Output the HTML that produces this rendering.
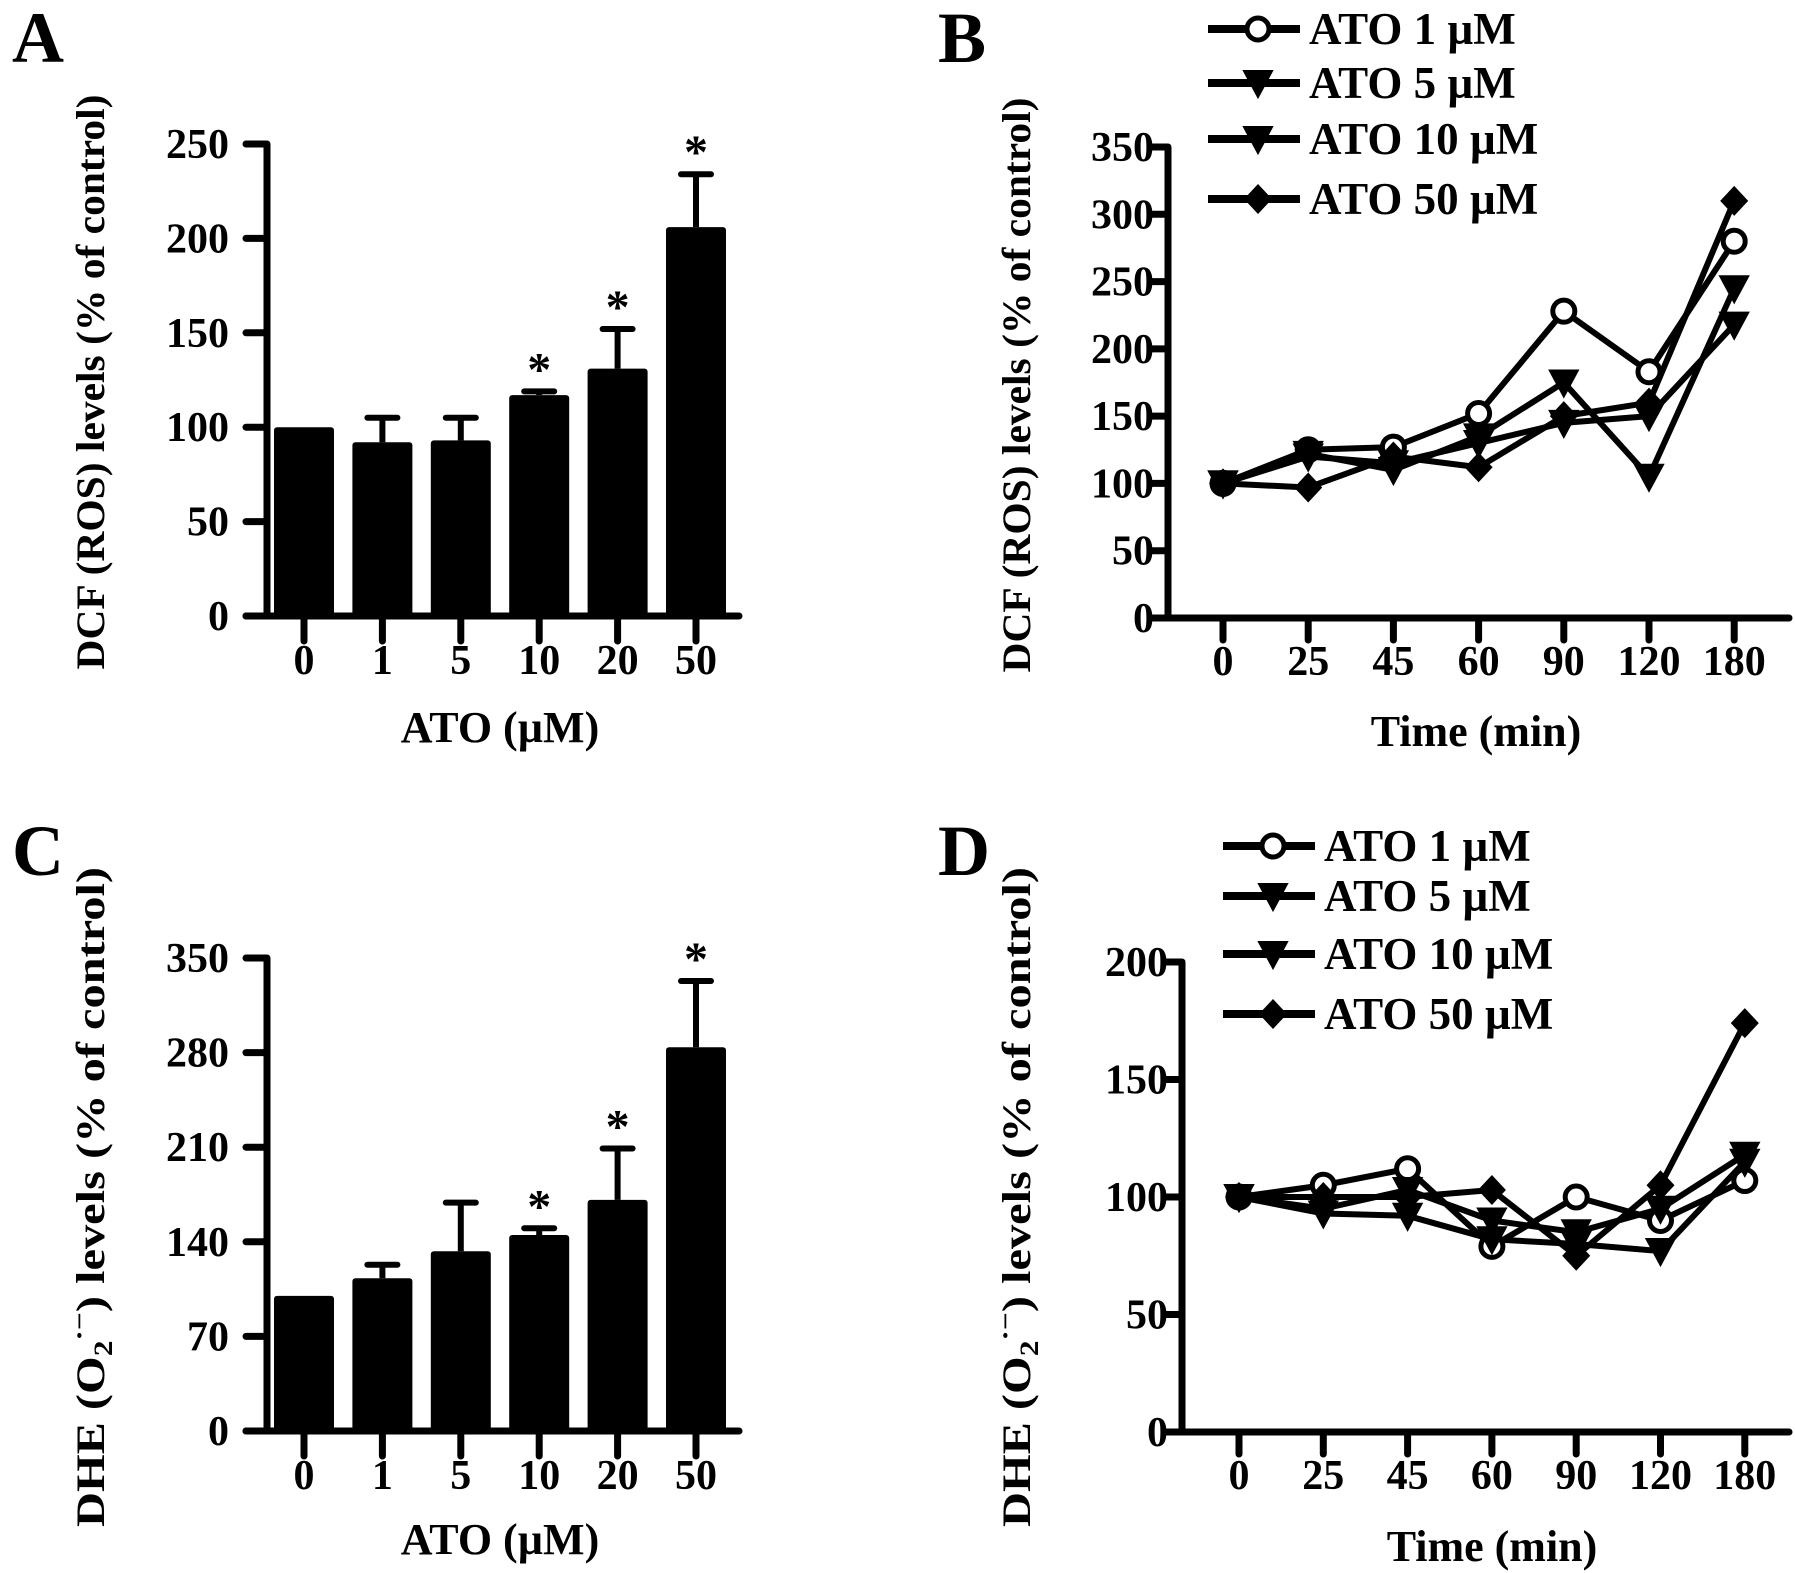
<!DOCTYPE html>
<html><head><meta charset="utf-8"><style>
html,body{margin:0;padding:0;background:#fff;}
svg{display:block;font-family:"Liberation Serif",serif;font-weight:bold;}
</style></head><body>
<svg id="fig" width="1795" height="1573" viewBox="0 0 1795 1573" xmlns="http://www.w3.org/2000/svg">
<rect width="1795" height="1573" fill="#fff"/>
</svg>
<script>
// ---- data ----
const doseCats = ["0","1","5","10","20","50"];
const dcfMeans = [100, 92, 93, 117, 131, 206];
const dcfErrTop = [100, 105, 105, 119, 152, 234];
const dcfStars = [false, false, false, true, true, true];
const dheMeans = [100, 113, 133, 145, 171, 284];
const dheErrTop = [100, 123, 169, 150, 209, 333];
const dheStars = [false, false, false, true, true, true];
const timeCats = ["0","25","45","60","90","120","180"];
const legendLabels = ["ATO 1 µM","ATO 5 µM","ATO 10 µM","ATO 50 µM"];
const markerTypes = ["circle","tri","tri","diamond"];
const dcfAto1 = [100,125,127,152,228,183,280];
const dcfAto5 = [100,122,110,135,175,105,245];
const dcfAto10 = [100,120,115,130,145,150,218];
const dcfAto50 = [100,97,120,112,150,160,310];
const dheAto1 = [100,105,112,79,100,90,107];
const dheAto5 = [100,95,103,90,85,95,118];
const dheAto10 = [100,93,92,82,80,77,115];
const dheAto50 = [100,100,100,103,75,105,174];
const dcfTicks = [0,50,100,150,200,250];
const dheBarTicks = [0,70,140,210,280,350];
const dcfLineTicks = [0,50,100,150,200,250,300,350];
const dheLineTicks = [0,50,100,150,200];

const NS="http://www.w3.org/2000/svg";
const svg=document.getElementById('fig');
function el(tag,attrs,parent){const e=document.createElementNS(NS,tag);for(const k in attrs)e.setAttribute(k,attrs[k]);(parent||svg).appendChild(e);return e;}
function txt(s,x,y,size,anchor,parent){const t=el('text',{x:x,y:y,'font-size':size,'text-anchor':anchor||'middle'},parent);t.textContent=s;return t;}

function panelLetter(ch,x,y){
  const t=txt(ch,x,y,72,'start');
  
  
}

function yLabel(cx,cy,len,isDhe,name){
  const t=el('text',{transform:`translate(${cx},${cy}) rotate(-90)`,'text-anchor':'middle','font-size':40,textLength:len,lengthAdjust:'spacingAndGlyphs'});
  
  
  if(!isDhe){t.textContent="DCF (ROS) levels (% of control)";}
  else{
    const a=el('tspan',{},t);a.textContent="DHE (O";
    const b=el('tspan',{'font-size':26,dy:8},t);b.textContent="2";
    const c=el('tspan',{'font-size':26,dy:-24},t);c.textContent="·−";
    const d=el('tspan',{dy:16},t);d.textContent=") levels (% of control)";
  }
}

function barPanel(opt){
  const g=el('g',{});
  
  
  const y=v=>opt.y0-(v/opt.max)*(opt.y0-opt.yTop);
  const xc=i=>opt.x0+i*opt.step;
  const ya=el('line',{x1:opt.ax,y1:opt.yTop,x2:opt.ax,y2:opt.y0+3,stroke:'#000','stroke-width':7},g);
  
  
  const xa=el('line',{x1:opt.ax-21,y1:opt.y0,x2:opt.xEnd,y2:opt.y0,stroke:'#000','stroke-width':7,'stroke-linecap':'round'},g);
  
  
  opt.ticks.forEach(t=>{
    el('line',{x1:opt.ax-21,y1:y(t),x2:opt.ax,y2:y(t),stroke:'#000','stroke-width':7,'stroke-linecap':'round'},g);
    const l=txt(String(t),opt.ax-38,y(t)+14,42,'end',g);
    
    
  });
  opt.cats.forEach((c,i)=>{
    el('line',{x1:xc(i),y1:opt.y0,x2:xc(i),y2:opt.y0+25,stroke:'#000','stroke-width':7,'stroke-linecap':'round'},g);
    const l=txt(c,xc(i),opt.y0+58,42,'middle',g);
    
    
    const v=opt.means[i],e=opt.err[i];
    if(e>v){
      el('line',{x1:xc(i),y1:y(v),x2:xc(i),y2:y(e),stroke:'#000','stroke-width':6},g);
      el('line',{x1:xc(i)-15,y1:y(e),x2:xc(i)+15,y2:y(e),stroke:'#000','stroke-width':6,'stroke-linecap':'round'},g);
    }
    const b=el('rect',{x:xc(i)-30,y:y(v),width:60,height:opt.y0-y(v),fill:'#000',rx:3},g);
    
    
    if(opt.stars[i]){
      const s=txt('*',xc(i),Math.min(y(e),y(v))-6,48,'middle',g);
      
      
    }
  });
  const xt=txt('ATO (µM)',500,opt.xTitleY,44,'middle',g);
  
  
}

function marker(type,x,y,g){
  if(type==='circle') return el('circle',{cx:x,cy:y,r:11,fill:'#fff',stroke:'#000','stroke-width':5},g);
  if(type==='tri') return el('polygon',{points:`${x-14},${y-12} ${x+14},${y-12} ${x},${y+14}`,fill:'#000',stroke:'#000','stroke-width':2},g);
  return el('polygon',{points:`${x},${y-15} ${x+14},${y} ${x},${y+15} ${x-14},${y}`,fill:'#000'},g);
}

function linePanel(opt){
  const g=el('g',{});
  
  
  const y=v=>opt.y0-(v/opt.max)*(opt.y0-opt.yTop);
  const xc=i=>opt.x0+i*opt.step;
  const ya=el('line',{x1:opt.ax,y1:opt.yTop,x2:opt.ax,y2:opt.y0+3,stroke:'#000','stroke-width':7},g);
  
  
  const xa=el('line',{x1:opt.ax-18,y1:opt.y0,x2:opt.xEnd,y2:opt.y0,stroke:'#000','stroke-width':7,'stroke-linecap':'round'},g);
  
  
  opt.ticks.forEach(t=>{
    el('line',{x1:opt.ax-18,y1:y(t),x2:opt.ax,y2:y(t),stroke:'#000','stroke-width':7,'stroke-linecap':'round'},g);
    const l=txt(String(t),opt.ax-14,y(t)+14,42,'end',g);
    
    
  });
  timeCats.forEach((c,i)=>{
    el('line',{x1:xc(i),y1:opt.y0,x2:xc(i),y2:opt.y0+22,stroke:'#000','stroke-width':7,'stroke-linecap':'round'},g);
    const l=txt(c,xc(i),opt.y0+57,42,'middle',g);
    
    
  });
  opt.series.forEach((s,k)=>{
    const p=el('polyline',{points:s.map((v,i)=>`${xc(i)},${y(v)}`).join(' '),fill:'none',stroke:'#000','stroke-width':6,'stroke-linejoin':'round'},g);
    
    
  });
  opt.series.forEach((s,k)=>{
    s.forEach((v,i)=>{
      const m=marker(markerTypes[k],xc(i),y(v),g);
      
      
    });
  });
  legendLabels.forEach((lab,k)=>{
    const ly=opt.legY[k];
    const lg=el('g',{},g);
    
    
    el('line',{x1:opt.legX,y1:ly,x2:opt.legX+92,y2:ly,stroke:'#000','stroke-width':8},lg);
    marker(markerTypes[k],opt.legX+50,ly,lg);
    txt(lab,opt.legX+101,ly+15,45,'start',lg);
  });
  const xt=txt('Time (min)',opt.titleX,opt.xTitleY,44,'middle',g);
  
  
}

panelLetter('A',12,62);
panelLetter('B',938,62);
panelLetter('C',12,875);
panelLetter('D',938,875);

yLabel(104,382,575,false,'y-axis-title-a');
yLabel(1030,385,575,false,'y-axis-title-b');
yLabel(104,1197,660,true,'y-axis-title-c');
yLabel(1030,1197,660,true,'y-axis-title-d');

barPanel({name:'chart-a',cats:doseCats,means:dcfMeans,err:dcfErrTop,stars:dcfStars,ticks:dcfTicks,max:250,y0:616,yTop:144,ax:267,x0:304,step:78.4,xEnd:739,xTitleY:742});
barPanel({name:'chart-c',cats:doseCats,means:dheMeans,err:dheErrTop,stars:dheStars,ticks:dheBarTicks,max:350,y0:1431,yTop:958,ax:267,x0:304,step:78.4,xEnd:739,xTitleY:1554});
linePanel({name:'chart-b',series:[dcfAto1,dcfAto5,dcfAto10,dcfAto50],ticks:dcfLineTicks,max:350,y0:618,yTop:147,ax:1168,x0:1223,step:85.2,xEnd:1789,legX:1208,legY:[29,83,139,199],titleX:1476,xTitleY:746});
linePanel({name:'chart-d',series:[dheAto1,dheAto5,dheAto10,dheAto50],ticks:dheLineTicks,max:200,y0:1432,yTop:962,ax:1182,x0:1239,step:84.3,xEnd:1789,legX:1223,legY:[846,896,954,1014],titleX:1492,xTitleY:1561});
</script>
</body></html>
